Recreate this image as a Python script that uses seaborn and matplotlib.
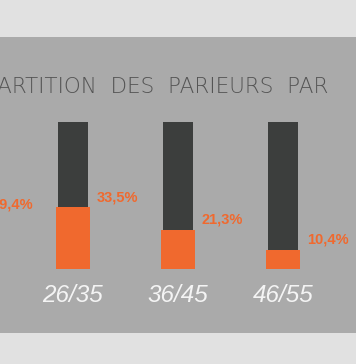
import matplotlib
matplotlib.use("Agg")
import matplotlib.pyplot as plt
import seaborn as sns
import pandas as pd
from matplotlib.patches import Rectangle

# values (first group is partly cut off on the left)
age_groups = ["18/25", "26/35", "36/45", "46/55"]
share_pct = [29.4, 33.5, 21.3, 10.4]
track_max = 80  # height of the dark background bars, same scale as share_pct
title = "RÉPARTITION  DES  PARIEURS  PAR"

ORANGE = "#f0692e"
DARK = "#3c3e3d"
PANEL = "#aaaaaa"
LIGHT = "#e1e1e1"

W, H = 356, 364
df = pd.DataFrame({"age": age_groups, "share": share_pct, "track": [track_max] * len(age_groups)})

sns.set_theme(style="white")
fig = plt.figure(figsize=(W / 100, H / 100), dpi=100)
fig.patch.set_facecolor(LIGHT)
fig.patches.append(Rectangle((0, (H - 333) / H), 1, (333 - 37) / H, transform=fig.transFigure,
                             facecolor=PANEL, edgecolor="none", zorder=-5))

# axes run past the left edge so the cut-off first group still gets drawn
left_px = -140
ax = fig.add_axes([left_px / W, (H - 269) / H, (W - left_px) / W, (269 - 122) / H])
ax.set_zorder(2)
ax.set_facecolor("none")

sns.barplot(data=df, x="age", y="track", color=DARK, width=0.29, saturation=1,
            linewidth=0, edgecolor="none", ax=ax, zorder=2)
sns.barplot(data=df, x="age", y="share", color=ORANGE, width=0.327, saturation=1,
            linewidth=0, edgecolor="none", ax=ax, zorder=3)

unit = 105.0
xmin = 1 - (73 - left_px) / unit
ax.set_xlim(xmin, xmin + (W - left_px) / unit)
ax.set_ylim(0, track_max)

for i, v in enumerate(share_pct):
    ax.annotate(f"{v:.1f}%".replace(".", ","), xy=(i + 24 / unit, v), xytext=(0, 7.5),
                textcoords="offset points", ha="left", va="center", annotation_clip=False,
                fontsize=10.5, fontweight="bold", color=ORANGE, family="Liberation Sans")

ax.set_xlabel("")
ax.set_ylabel("")
ax.set_yticks([])
ax.tick_params(axis="x", length=0, pad=11)
for lab in ax.get_xticklabels():
    lab.set_fontsize(17.5)
    lab.set_fontstyle("italic")
    lab.set_family("Liberation Sans")
    lab.set_color("#f4f4f4")
sns.despine(ax=ax, left=True, bottom=True)

fig.text(-43 / W, (H - 87) / H, title, ha="left", va="center", fontsize=15.5,
         color="#545454", family="DejaVu Sans", fontweight="light")

fig.savefig("out.png", dpi=100, facecolor=LIGHT)
